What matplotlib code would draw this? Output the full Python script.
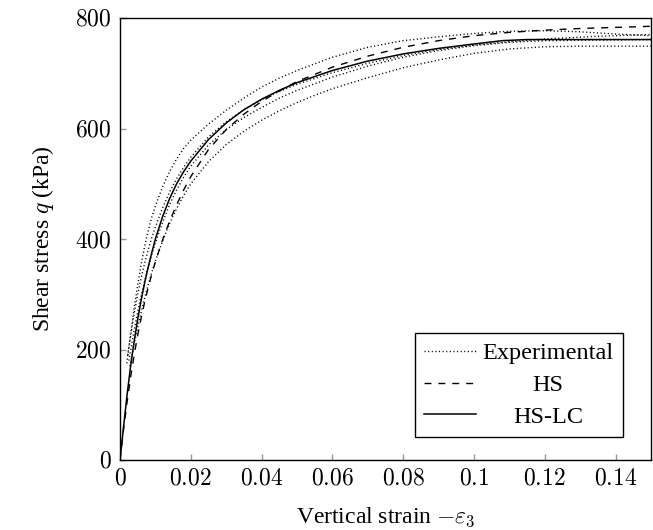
import matplotlib
matplotlib.use("Agg")
import matplotlib.pyplot as plt

plt.rcParams['font.family'] = ['Liberation Serif', 'DejaVu Serif']
plt.rcParams['mathtext.fontset'] = 'cm'
plt.rcParams['font.size'] = 17

# experimental curves (strain, q in kPa)
exp1_x = [0.0019, 0.003, 0.004, 0.005, 0.006, 0.007, 0.008, 0.009, 0.010, 0.012, 0.014, 0.016,
          0.018, 0.020, 0.025, 0.030, 0.035, 0.040, 0.045, 0.050, 0.060, 0.070, 0.080, 0.090,
          0.100, 0.110, 0.120, 0.130, 0.140, 0.150]
exp1_y = [175, 228, 275, 317, 355, 388, 416, 440, 460, 494, 522, 545,
          564, 579, 608, 633, 655, 675, 691, 705, 729, 747, 759, 766,
          772, 776, 777, 775, 771, 768]

exp2_x = [0.0022, 0.003, 0.004, 0.005, 0.006, 0.007, 0.008, 0.009, 0.010, 0.012, 0.014, 0.016,
          0.018, 0.020, 0.025, 0.030, 0.035, 0.040, 0.045, 0.050, 0.060, 0.070, 0.080, 0.090,
          0.100, 0.110, 0.120, 0.135, 0.150]
exp2_y = [190, 225, 265, 300, 330, 357, 381, 403, 422, 456, 485, 509,
          530, 548, 585, 612, 634, 652, 667, 680, 701, 718, 732, 743,
          751, 757, 762, 767, 770]

exp3_x = [0.0025, 0.004, 0.005, 0.006, 0.007, 0.008, 0.009, 0.010, 0.012, 0.014, 0.016, 0.018,
          0.020, 0.025, 0.030, 0.035, 0.040, 0.045, 0.050, 0.060, 0.070, 0.080, 0.090, 0.100,
          0.110, 0.120, 0.135, 0.150]
exp3_y = [180, 235, 268, 298, 325, 350, 372, 393, 430, 462, 489, 512,
          532, 570, 598, 620, 638, 655, 669, 693, 713, 729, 741, 750,
          756, 759, 760, 761]

exp4_x = [0.0028, 0.004, 0.005, 0.006, 0.007, 0.008, 0.009, 0.010, 0.012, 0.014, 0.016, 0.018,
          0.020, 0.025, 0.030, 0.035, 0.040, 0.045, 0.050, 0.055, 0.060, 0.070, 0.080, 0.090,
          0.100, 0.110, 0.120, 0.130, 0.150]
exp4_y = [170, 210, 240, 268, 294, 318, 340, 360, 396, 428, 455, 479,
          500, 540, 571, 595, 615, 632, 647, 660, 672, 692, 710, 724,
          736, 744, 748, 749, 749]

# HS model
hs_x = [0, 0.001, 0.002, 0.003, 0.004, 0.005, 0.006, 0.007, 0.008, 0.009, 0.010, 0.012, 0.014,
        0.016, 0.018, 0.020, 0.025, 0.030, 0.035, 0.040, 0.045, 0.050, 0.060, 0.070, 0.080,
        0.090, 0.100, 0.110, 0.120, 0.130, 0.140, 0.150]
hs_y = [0, 55, 105, 150, 190, 226, 258, 287, 313, 337, 359, 398, 432,
        462, 489, 513, 562, 598, 626, 649, 668, 685, 711, 731, 747,
        759, 768, 774, 778, 781, 783, 785]

# HS-LC model
lc_x = [0, 0.001, 0.002, 0.003, 0.004, 0.005, 0.006, 0.007, 0.008, 0.009, 0.010, 0.012, 0.014,
        0.016, 0.018, 0.020, 0.025, 0.030, 0.035, 0.040, 0.045, 0.050, 0.060, 0.070, 0.080,
        0.090, 0.100, 0.108, 0.115, 0.150]
lc_y = [0, 60, 118, 170, 215, 255, 290, 322, 350, 376, 400, 440, 473,
        500, 522, 541, 580, 610, 634, 653, 669, 683, 705, 722, 735,
        745, 753, 759, 761, 761]

xticks = [0, 0.02, 0.04, 0.06, 0.08, 0.1, 0.12, 0.14]
xlabels = ['$0$', '$0.02$', '$0.04$', '$0.06$', '$0.08$', '$0.1$', '$0.12$', '$0.14$']
yticks = [0, 200, 400, 600, 800]
ylabels = ['$0$', '$200$', '$400$', '$600$', '$800$']

fig = plt.figure(figsize=(6.53, 5.30), dpi=100)
ax = fig.add_axes([120/653, 1-460/530, 531/653, 442/530])

dot = (0, (0.8, 1.8))
e1, = ax.plot(exp1_x, exp1_y, color='black', lw=1, linestyle=dot)
ax.plot(exp2_x, exp2_y, color='black', lw=1, linestyle=dot)
ax.plot(exp3_x, exp3_y, color='black', lw=1, linestyle=dot)
ax.plot(exp4_x, exp4_y, color='black', lw=1, linestyle=dot)
hs, = ax.plot(hs_x, hs_y, color='black', lw=1, linestyle=(0, (5, 5)))
lc, = ax.plot(lc_x, lc_y, color='black', lw=1.1)

ax.set_xlim(0, 0.15)
ax.set_ylim(0, 800)
ax.set_xticks(xticks)
ax.set_xticklabels(xlabels)
ax.set_yticks(yticks)
ax.set_yticklabels(ylabels)
ax.tick_params(direction='in', length=4.5, width=1, color='#999999', pad=6)
for s in ax.spines.values():
    s.set_linewidth(1)

ax.set_xlabel(r'Vertical strain $-\varepsilon_3$', labelpad=12)
ax.set_ylabel(r'Shear stress $q$ (kPa)', labelpad=14)

leg = ax.legend([e1, hs, lc], ['Experimental', 'HS', 'HS-LC'], loc='lower right',
                bbox_to_anchor=(0.947, 0.052), borderaxespad=0, fancybox=False,
                edgecolor='black', framealpha=1, handlelength=2.15, handletextpad=0.25,
                labelspacing=0.4, borderpad=0.38, prop={'size': 17.5})
leg.get_frame().set_linewidth(1)

# center the legend texts like pgfplots
fig.canvas.draw()
r = fig.canvas.get_renderer()
ws = [t.get_window_extent(r).width for t in leg.get_texts()]
for t, w in zip(leg.get_texts(), ws):
    t.set_x((max(ws) - w) / 2)

fig.savefig('out.png', dpi=100)
